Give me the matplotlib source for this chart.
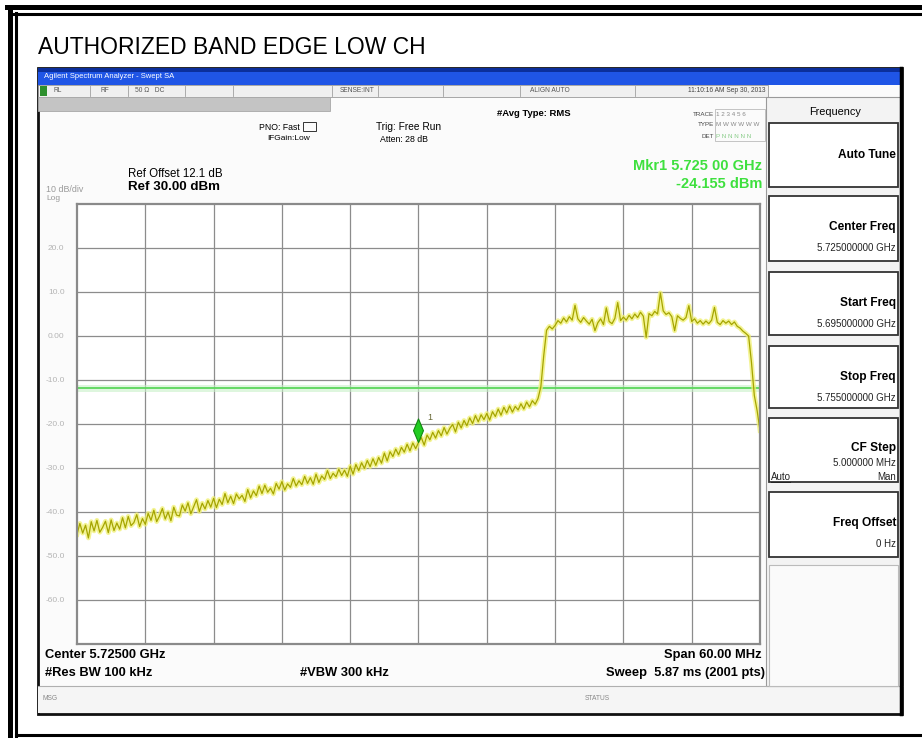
import numpy as np
import matplotlib
matplotlib.use("Agg")
import matplotlib.pyplot as plt
from matplotlib.patches import Rectangle
from matplotlib.lines import Line2D
from matplotlib.path import Path

plt.rcParams["font.family"] = ["Liberation Sans", "DejaVu Sans"]

# ---- data ----
start_mhz, stop_mhz = 5695.0, 5755.0
# trace level (dBm), 0.25 MHz apart
trace_dbm = [
    -45.1, -42.6, -44.8, -43.0, -45.9, -42.2, -44.3, -41.9, -44.6, -43.5, -42.1, -44.7,
    -41.8, -44.2, -42.5, -43.9, -41.3, -43.6, -41.0, -43.1, -42.4, -40.6, -43.3, -41.5,
    -42.8, -40.3, -41.9, -39.6, -42.2, -40.9, -39.2, -41.6, -40.0, -42.0, -38.9, -40.7,
    -40.9, -38.4, -39.8, -37.9, -40.4, -38.8, -37.2, -39.9, -38.0, -39.3, -37.4, -38.9,
    -36.9, -39.0, -37.1, -38.3, -35.8, -37.9, -36.4, -38.1, -35.9, -37.0, -36.2, -37.6,
    -34.9, -36.8, -35.2, -36.3, -34.1, -35.8, -33.9, -35.5, -34.6, -35.9, -33.5, -34.8,
    -33.1, -35.0, -33.6, -34.4, -32.4, -34.1, -32.9, -33.8, -31.9, -33.5, -32.2, -33.7,
    -31.4, -33.3, -31.8, -32.6, -30.6, -32.4, -31.2, -32.0, -30.3, -31.7, -30.5, -31.9,
    -29.6, -31.4, -29.2, -30.6, -28.8, -30.1, -28.3, -29.7, -27.9, -29.4, -27.6, -28.9,
    -26.6, -28.4, -26.3, -27.4, -25.7, -27.0, -25.3, -26.4, -24.6, -26.1, -24.3, -25.6,
    -24.2, -23.1, -24.8, -22.5, -23.6, -21.9, -23.2, -21.5, -22.7, -20.8, -22.3, -21.0,
    -20.1, -21.8, -19.6, -20.9, -19.2, -20.4, -18.6, -19.9, -18.1, -19.5, -17.9, -19.0,
    -17.6, -19.1, -17.2, -18.3, -16.6, -18.0, -16.2, -17.5, -15.9, -17.3, -16.0, -16.8,
    -15.4, -16.6, -15.0, -16.1, -14.7, -15.5, -14.2, -11.5, -4.5, 1.3, 2.2, 1.6,
    2.4, 3.5, 2.9, 4.1, 3.2, 4.4, 3.6, 7.0, 3.9, 3.1, 4.2, 3.4,
    2.7, 3.8, 1.2, 3.0, 3.9, 2.6, 6.4, 3.3, 2.8, 4.0, 7.6, 3.5,
    4.3, 3.6, 4.7, 3.9, 5.0, 4.2, 5.4, 4.5, -0.3, 5.1, 4.6, 5.6,
    5.0, 9.8, 5.7, 4.9, 5.3, 4.4, 1.2, 4.6, 4.0, 3.6, 4.2, 6.9,
    3.3, 3.9, 2.9, 3.5, 2.7, 3.4, 2.8, 3.6, 6.5, 3.1, 2.6, 3.5,
    2.9, 3.4, 2.6, 3.2, 2.2, 1.8, 1.1, 0.6, 0.0, -6.0, -13.5, -17.0,
    -21.5,
]
freqs_mhz = np.linspace(start_mhz, stop_mhz, len(trace_dbm))

ref_level = 30.0
bottom_level = -70.0
level_ticks = [20, 10, 0, -10, -20, -30, -40, -50, -60]
level_labels = ["20.0", "10.0", "0.00", "-10.0", "-20.0", "-30.0", "-40.0", "-50.0", "-60.0"]
freq_grid = [5701, 5707, 5713, 5719, 5725, 5731, 5737, 5743, 5749]
display_line = -11.8
mkr_freq = 5725.0
mkr_level = -24.155

panel_titles = ["Auto Tune", "Center Freq", "Start Freq", "Stop Freq", "CF Step", "Freq Offset"]
panel_values = ["", "5.725000000 GHz", "5.695000000 GHz", "5.755000000 GHz", "5.000000 MHz", "0 Hz"]

# ---- figure in pixel coordinates ----
W, H = 922, 738
fig = plt.figure(figsize=(W / 100, H / 100), dpi=100)
fig.patch.set_facecolor("white")


def fx(x):
    return x / W


def fy(y):
    return 1 - y / H


def rect(x0, y0, x1, y1, fc="none", ec="none", lw=1.0, z=-5):
    fig.add_artist(Rectangle((fx(x0), fy(y1)), (x1 - x0) / W, (y1 - y0) / H,
                             transform=fig.transFigure, facecolor=fc, edgecolor=ec,
                             linewidth=lw, zorder=z))


def line(x0, y0, x1, y1, c="black", lw=1.0, z=-4):
    fig.add_artist(Line2D([fx(x0), fx(x1)], [fy(y0), fy(y1)], transform=fig.transFigure,
                          color=c, linewidth=lw, zorder=z))


def txt(x, y, s, size=8, c="black", weight="normal", ha="left", va="center", **kw):
    fig.text(fx(x), fy(y), s, fontsize=size, color=c, fontweight=weight, ha=ha, va=va, **kw)


# document border (double line)
rect(5, 5, W + 5, 10, fc="black")
line(12, 13.5, W, 13.5, lw=2.2)
rect(8, 5, 13, 738, fc="black")
line(16, 13, 16, 738, lw=2.2)
line(16, 735, W, 735, lw=2.2)

txt(38, 47, "AUTHORIZED BAND EDGE LOW CH", size=16.5)

# screenshot
rect(38, 68, 902, 714, fc="#fbfbfb", ec="#111111", lw=2.0, z=-6)
rect(38, 68, 902, 85, fc="#1f55e6", z=-5)
rect(38, 68, 902, 72, fc="#0b2f9c", z=-5)
txt(44, 77, "Agilent Spectrum Analyzer - Swept SA", size=5.5, c="white")
rect(38, 85, 768, 97, fc="#f0f0f0", ec="#9a9a9a", lw=0.6)
rect(40, 86, 47, 96, fc="#2d8f2d")
for sx in [90, 128, 185, 233, 332, 378, 443, 520, 635]:
    line(sx, 86, sx, 96, c="#a0a0a0", lw=0.6)
txt(53, 91, "RL", size=4.8, c="#555555")
txt(100, 91, "RF", size=4.8, c="#555555")
txt(135, 91, "50 \u03a9   DC", size=4.8, c="#555555")
txt(340, 91, "SENSE:INT", size=4.8, c="#555555")
txt(530, 91, "ALIGN AUTO", size=4.8, c="#555555")
txt(765, 91, "11:10:16 AM Sep 30, 2013", size=4.8, c="#444444", ha="right")
rect(38, 97, 330, 111, fc="#c4c4c4", ec="#a8a8a8", lw=0.6)

txt(300, 127, "PNO: Fast", size=6.3, ha="right")
rect(303, 122, 316, 131, ec="#333333", lw=0.7)
txt(310, 138, "IFGain:Low", size=6.0, ha="right")
txt(376, 127, "Trig: Free Run", size=7.3)
txt(380, 140, "Atten: 28 dB", size=6.3)
txt(497, 113, "#Avg Type: RMS", size=6.8, weight="bold")
txt(714, 114, "TRACE", size=4.5, c="#444444", ha="right")
txt(714, 125, "TYPE", size=4.5, c="#444444", ha="right")
txt(714, 136, "DET", size=4.5, c="#444444", ha="right")
txt(716, 114, "1 2 3 4 5 6", size=4.5, c="#888888")
txt(716, 125, "M W W W W W", size=4.5, c="#888888")
txt(716, 136, "P N N N N N", size=4.5, c="#88cc88")
rect(715, 109, 765, 141, ec="#bbbbbb", lw=0.6)

txt(128, 174, "Ref Offset 12.1 dB", size=8.3)
txt(128, 187, "Ref 30.00 dBm", size=9.6, weight="bold")
txt(46, 189, "10 dB/div", size=6.4, c="#9a9a9a")
txt(46, 198, "Log", size=6.0, c="#9a9a9a")
txt(762, 166, "Mkr1 5.725 00 GHz", size=10.5, c="#3ee03e", weight="bold", ha="right")
txt(762, 184, "-24.155 dBm", size=10.5, c="#3ee03e", weight="bold", ha="right")

# bottom annotations
txt(45, 655, "Center 5.72500 GHz", size=9.3, weight="bold")
txt(45, 673, "#Res BW 100 kHz", size=9.3, weight="bold")
txt(300, 673, "#VBW 300 kHz", size=9.3, weight="bold")
txt(762, 655, "Span 60.00 MHz", size=9.3, weight="bold", ha="right")
txt(765, 673, "Sweep  5.87 ms (2001 pts)", size=9.3, weight="bold", ha="right")
line(38, 686, 902, 686, c="#b0b0b0", lw=0.8)
rect(38, 686, 902, 713, fc="#f5f5f5")
txt(42, 698, "MSG", size=4.8, c="#888888")
txt(585, 698, "STATUS", size=4.8, c="#888888")

# softkey panel
rect(766, 97, 900, 686, fc="#f3f3f3", ec="#9a9a9a", lw=0.8)
txt(835, 112, "Frequency", size=7.8, ha="center")
boxes = [(123, 187), (196, 261), (272, 335), (346, 408), (418, 482), (492, 557)]
for (b0, b1), title, value in zip(boxes, panel_titles, panel_values):
    rect(769, b0, 898, b1, fc="white", ec="#333333", lw=1.3, z=-4)
    if value and title != "CF Step":
        txt(896, b0 + 31, title, size=8.6, weight="bold", ha="right")
        txt(896, b0 + 52, value, size=7.0, c="#222222", ha="right")
    elif title == "CF Step":
        txt(896, b0 + 30, title, size=8.6, weight="bold", ha="right")
        txt(896, b0 + 45, value, size=7.0, c="#222222", ha="right")
        txt(771, b0 + 59, "Auto", size=7.0, c="#222222")
        line(771, b0 + 64, 790, b0 + 64, c="#222222", lw=0.7)
        txt(896, b0 + 59, "Man", size=7.0, c="#222222", ha="right")
    else:
        txt(896, (b0 + b1) / 2, title, size=8.6, weight="bold", ha="right")
rect(769, 565, 898, 686, fc="#fafafa", ec="#bbbbbb", lw=0.8, z=-4)
line(901, 68, 901, 714, lw=2.5)

# ---- trace plot ----
ax = fig.add_axes([fx(77), fy(644), (760 - 77) / W, (644 - 204) / H])
ax.set_zorder(2)
ax.set_facecolor("white")
ax.set_xlim(start_mhz, stop_mhz)
ax.set_ylim(bottom_level, ref_level)
ax.set_xticks(freq_grid)
ax.set_xticklabels([])
ax.set_yticks(level_ticks)
ax.set_yticklabels(level_labels)
ax.tick_params(length=0, labelsize=6, labelcolor="#b4b4b4", pad=9)
ax.grid(color="#8c8c8c", linewidth=0.9)
for sp in ax.spines.values():
    sp.set_color("#8a8a8a")
    sp.set_linewidth(1.6)

ax.axhline(display_line, color="#c8f0c8", linewidth=5, alpha=0.6)
ax.axhline(display_line, color="#5cd65c", linewidth=1.3)

ax.plot(freqs_mhz, trace_dbm, color="#f0f070", linewidth=3.4, alpha=0.75, solid_joinstyle="round")
ax.plot(freqs_mhz, trace_dbm, color="#a5a500", linewidth=0.9)

# marker: diamond with its lower tip on the trace point
diamond = Path([(0, 0), (0.42, 1), (0, 2), (-0.42, 1), (0, 0)],
               [Path.MOVETO, Path.LINETO, Path.LINETO, Path.LINETO, Path.CLOSEPOLY])
ax.plot([mkr_freq], [mkr_level], marker=diamond, markersize=34, color="#22cc22",
        markeredgecolor="#118811", markeredgewidth=0.8, linestyle="none")
ax.annotate("1", xy=(mkr_freq, mkr_level), xytext=(6, 16), textcoords="offset points",
            fontsize=6.5, color="#666633")

fig.savefig("out.png", dpi=100)
